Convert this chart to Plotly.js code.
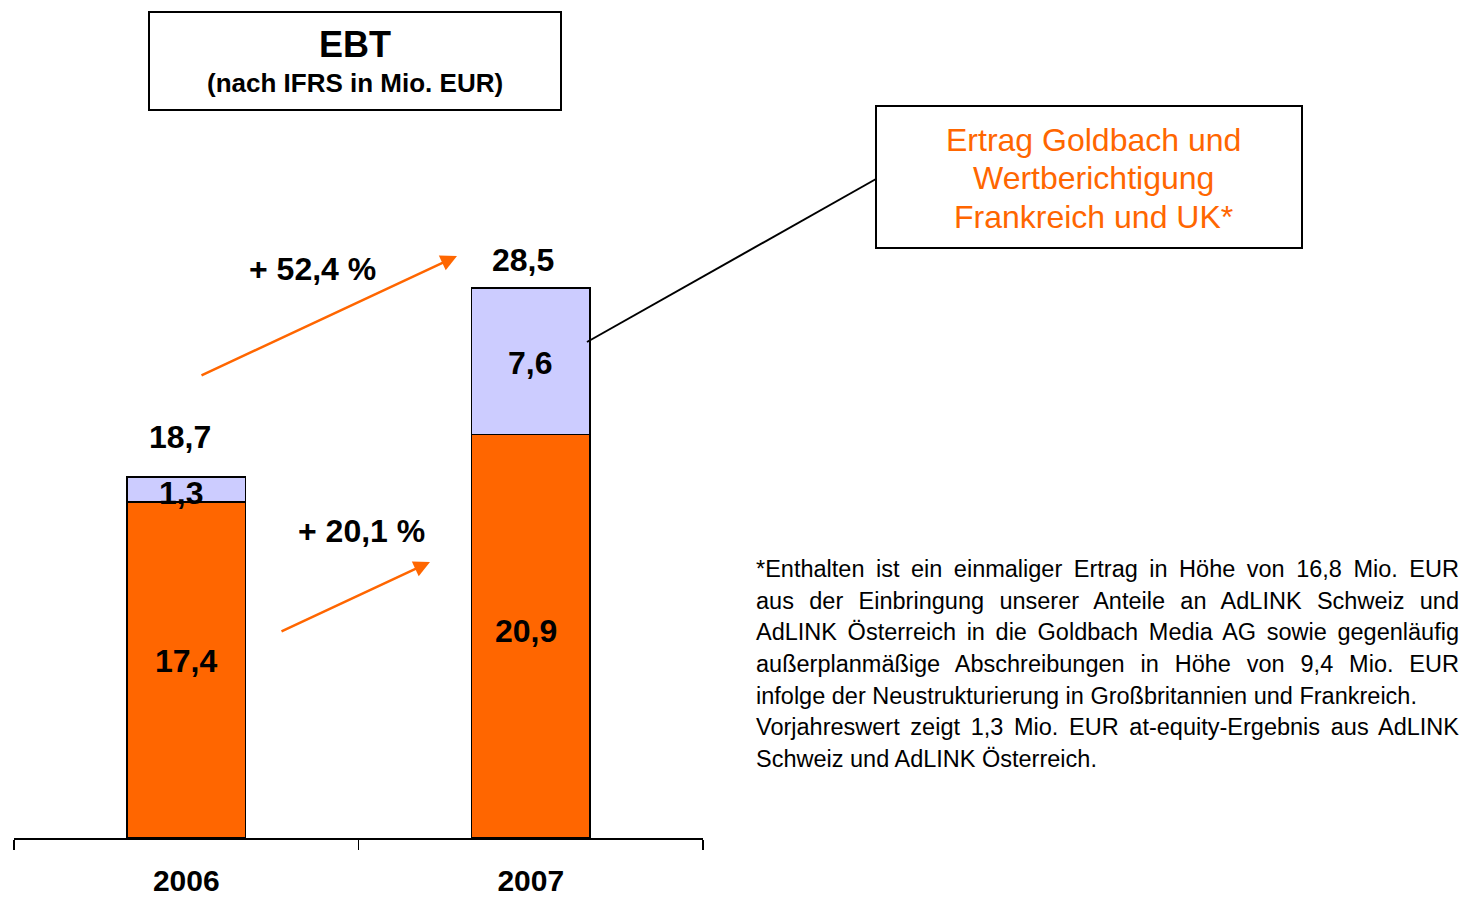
<!DOCTYPE html>
<html><head><meta charset="utf-8">
<script src="https://cdn.plot.ly/plotly-3.0.1.min.js"></script>
<style>html,body{margin:0;padding:0;background:#fff;overflow:hidden;}</style>
</head><body><div id="chart" style="width:1461px;height:898px;"></div>
<script>
// ---- data ----
const years = ['2006', '2007'];
const baseValues = [17.4, 20.9];      // orange segment
const extraValues = [1.3, 7.6];       // lavender segment
const totalValues = [18.7, 28.5];
const growthLabels = ['+ 52,4 %', '+ 20,1 %'];
const titleLines = ['EBT', '(nach IFRS in Mio. EUR)'];
const calloutLines = ['Ertrag Goldbach und', 'Wertberichtigung', 'Frankreich und UK*'];
const footnoteLines = [
  '*Enthalten ist ein einmaliger Ertrag in Höhe von 16,8 Mio. EUR',
  'aus der Einbringung unserer Anteile an AdLINK Schweiz und',
  'AdLINK Österreich in die Goldbach Media AG sowie gegenläufig',
  'außerplanmäßige Abschreibungen in Höhe von 9,4 Mio. EUR',
  'infolge der Neustrukturierung in Großbritannien und Frankreich.',
  'Vorjahreswert zeigt 1,3 Mio. EUR at-equity-Ergebnis aus AdLINK',
  'Schweiz und AdLINK Österreich.'
];
const justifiedFootnote = [true, true, true, true, false, true, false];

// ---- layout helpers ----
const W = 1461, H = 898;
const M = {l: 14, r: 758, t: 66, b: 60};
const PW = W - M.l - M.r, PH = H - M.t - M.b;
const px = x => (x - M.l) / PW;
const py = y => (H - M.b - y) / PH;
const fmt = v => v.toFixed(1).replace('.', ',');

const ORANGE = '#FF6600';
const LAVENDER = '#CCCCFF';
const FONT = 'Liberation Sans, Arial, Helvetica, sans-serif';

const data = [
  {type: 'bar', x: years, y: baseValues, width: 0.345,
   marker: {color: ORANGE, line: {color: '#000', width: 1.5}}, hoverinfo: 'skip'},
  {type: 'bar', x: years, y: extraValues, width: 0.345,
   marker: {color: LAVENDER, line: {color: '#000', width: 1.5}}, hoverinfo: 'skip'}
];

const annotations = [];
const boldFont = (s) => ({family: FONT, size: s, color: '#000', weight: 'bold'});

// totals above bars (x given as category index)
const totalShift = [[-6, 40], [-8, 28]];
totalValues.forEach((v, i) => annotations.push({
  x: i, y: v, xref: 'x', yref: 'y', text: '<b>' + fmt(v) + '</b>',
  showarrow: false, yanchor: 'middle', xanchor: 'center',
  xshift: totalShift[i][0], yshift: totalShift[i][1], font: boldFont(32)
}));
// segment labels
const baseShift = [[0, 9], [-5, 5]];
baseValues.forEach((v, i) => annotations.push({
  x: i, y: v / 2, xref: 'x', yref: 'y', text: '<b>' + fmt(v) + '</b>',
  showarrow: false, xanchor: 'center', yanchor: 'middle',
  xshift: baseShift[i][0], yshift: baseShift[i][1], font: boldFont(32)
}));
const extraShift = [[-5, -3], [-1, -2]];
extraValues.forEach((v, i) => annotations.push({
  x: i, y: baseValues[i] + v / 2, xref: 'x', yref: 'y', text: '<b>' + fmt(v) + '</b>',
  showarrow: false, xanchor: 'center', yanchor: 'middle',
  xshift: extraShift[i][0], yshift: extraShift[i][1], font: boldFont(32)
}));
// growth labels
const growthPos = [[312, 269], [361, 531]];
growthLabels.forEach((t, i) => annotations.push({
  x: px(growthPos[i][0]), y: py(growthPos[i][1]), xref: 'paper', yref: 'paper',
  text: '<b>' + t + '</b>', showarrow: false, xanchor: 'center', yanchor: 'middle', font: boldFont(32)
}));
// growth arrows
const arrows = [[[200, 376], [457, 256]], [[280, 632], [430, 562]]];
arrows.forEach(a => annotations.push({
  x: px(a[1][0]), y: py(a[1][1]), xref: 'paper', yref: 'paper',
  ax: a[0][0] - a[1][0], ay: a[0][1] - a[1][1], axref: 'pixel', ayref: 'pixel',
  text: '', showarrow: true, arrowhead: 2, arrowsize: 1.3, arrowwidth: 2.5, arrowcolor: ORANGE
}));
// title box text
annotations.push({x: px(355), y: py(45), xref: 'paper', yref: 'paper', text: '<b>' + titleLines[0] + '</b>',
  showarrow: false, xanchor: 'center', yanchor: 'middle', font: boldFont(36)});
annotations.push({x: px(355), y: py(83), xref: 'paper', yref: 'paper', text: '<b>' + titleLines[1] + '</b>',
  showarrow: false, xanchor: 'center', yanchor: 'middle', font: boldFont(26)});
// callout text
calloutLines.forEach((t, i) => annotations.push({
  x: px(1093), y: py(140 + i * 38.5), xref: 'paper', yref: 'paper', text: t,
  showarrow: false, xanchor: 'center', yanchor: 'middle', font: {family: FONT, size: 32, color: ORANGE}
}));
// footnote
footnoteLines.forEach((t, i) => annotations.push({
  x: px(754), y: py(569 + i * 31.67), xref: 'paper', yref: 'paper', text: t,
  showarrow: false, xanchor: 'left', yanchor: 'middle', align: 'left',
  font: {family: FONT, size: 23.5, color: '#000'}
}));

const shapes = [
  {type: 'rect', xref: 'paper', yref: 'paper', x0: px(149), x1: px(561), y0: py(12), y1: py(110),
   line: {color: '#000', width: 2}},
  {type: 'rect', xref: 'paper', yref: 'paper', x0: px(876), x1: px(1302), y0: py(106), y1: py(248),
   line: {color: '#000', width: 2}},
  {type: 'line', xref: 'paper', yref: 'paper', x0: px(587), x1: px(876), y0: py(342), y1: py(179),
   line: {color: '#000', width: 2}}
];

const layout = {
  width: W, height: H, margin: M, paper_bgcolor: '#fff', plot_bgcolor: '#fff',
  barmode: 'stack', showlegend: false,
  xaxis: {type: 'category', range: [-0.5, 1.5], showline: true, linecolor: '#000', linewidth: 1.5,
    ticks: 'outside', tickson: 'boundaries', ticklen: 10, tickwidth: 1.5, tickcolor: '#000',
    showgrid: false, zeroline: false, automargin: false, ticklabelstandoff: 15,
    tickfont: {family: FONT, size: 30, color: '#000', weight: 'bold'}},
  yaxis: {range: [0, PH / 19.3], visible: false, showgrid: false, zeroline: false, fixedrange: true},
  annotations: annotations, shapes: shapes
};

function justify() {
  const target = 703;
  document.querySelectorAll('#chart .annotation-text').forEach(el => {
    const idx = footnoteLines.indexOf(el.textContent);
    if (idx < 0 || !justifiedFootnote[idx]) return;
    el.style.wordSpacing = '0px';
    const w = el.getComputedTextLength();
    const n = (footnoteLines[idx].match(/ /g) || []).length;
    if (n > 0 && w < target) el.style.wordSpacing = ((target - w) / n) + 'px';
  });
}

Plotly.newPlot('chart', data, layout, {staticPlot: true, displayModeBar: false}).then(justify);
</script>
</body></html>
